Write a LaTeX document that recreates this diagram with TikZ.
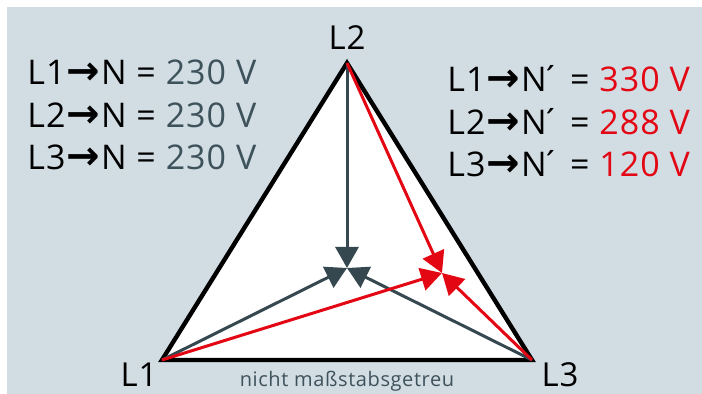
\documentclass[tikz,border=0pt]{standalone}
\usepackage{fontspec}
\setmainfont{Open Sans}[LetterSpace=3.0]
\newfontfamily\arrowfont{DejaVu Sans}
\usetikzlibrary{arrows.meta}
\definecolor{bgblue}{RGB}{210,220,227}
\definecolor{slate}{RGB}{53,72,80}
\definecolor{slatetext}{RGB}{62,82,92}
\definecolor{sred}{RGB}{227,6,19}
\newcommand{\toN}{\kern0.5pt{\arrowfont\bfseries\fontsize{20}{20}\selectfont →}\kern0.5pt}
\tikzset{
  phase/.style={
    black,
    line width=2.2pt,
    line join=miter
  },
  neutral/.style={
    draw=slate,
    line width=1.5pt,
    -{Triangle[length=10.5pt,width=11.5pt]}
  },
  shifted/.style={
    neutral,
    draw=sred
  },
  value/.style={
    anchor=base west,
    inner sep=0pt,
    font=\fontsize{17}{17}\selectfont
  },
  vertex/.style={
    anchor=base,
    inner sep=0pt,
    font=\fontsize{16.5}{16.5}\selectfont
  }
}

\begin{document}
\begin{tikzpicture}[x=0.5pt,y=0.5pt]
  \useasboundingbox (0,0) rectangle (702,394);
  \fill[bgblue] (7,0) rectangle (702,387);

  % corners and star points
  \coordinate (L1) at (162,34);
  \coordinate (L2) at (347,331);
  \coordinate (L3) at (532,34);
  \coordinate (N) at (347,126);
  \coordinate (Nx) at (442,121);

  \filldraw[phase,fill=white] (L1) -- (L2) -- (L3) -- cycle;

  \draw[neutral] (L2) -- (N);
  \draw[neutral] (L1) -- (N);
  \draw[neutral] (L3) -- (N);
  \draw[shifted] (L2) -- (Nx);
  \draw[shifted] (L1) -- (Nx);
  \draw[shifted] (L3) -- (Nx);

  \node[vertex] (l1) at (139,7) {L1};
  \node[vertex] (l2) at (347,344) {L2};
  \node[vertex] (l3) at (560,7) {L3};
  \node[vertex,text=slatetext,font=\fontsize{10}{10}\selectfont] (scale) at (347,7) {nicht maßstabsgetreu};

  % voltages to N
  \node[value] (v1) at (27,309) {L1\toN N = \textcolor{slatetext}{230 V}};
  \node[value] (v2) at (27,266) {L2\toN N = \textcolor{slatetext}{230 V}};
  \node[value] (v3) at (27,224) {L3\toN N = \textcolor{slatetext}{230 V}};

  % voltages to N'
  \node[value] (w1) at (447,302) {L1\toN N\kern-3pt´ = \textcolor{sred}{330 V}};
  \node[value] (w2) at (447,259) {L2\toN N\kern-3pt´ = \textcolor{sred}{288 V}};
  \node[value] (w3) at (447,217) {L3\toN N\kern-3pt´ = \textcolor{sred}{120 V}};
\end{tikzpicture}
\end{document}
